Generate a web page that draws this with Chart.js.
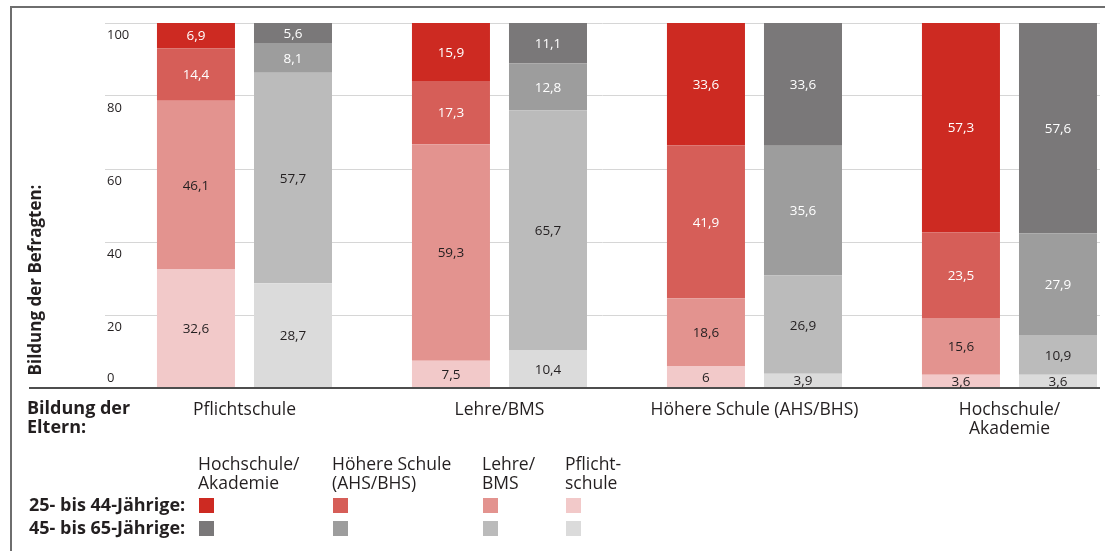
<!DOCTYPE html>
<html lang="de">
<head>
<meta charset="UTF-8">
<title>Bildung der Befragten nach Bildung der Eltern</title>
<script src="https://cdn.jsdelivr.net/npm/chart.js"></script>
<style>
  html, body { margin: 0; padding: 0; background: #fff; }
  canvas { display: block; }
</style>
</head>
<body>
<canvas id="bildungChart" width="1105" height="551"></canvas>
<script>
// Bildung der Eltern (Kategorien der x-Achse)
const elternLabels = [['Pflichtschule'], ['Lehre/BMS'], ['Höhere Schule (AHS/BHS)'], ['Hochschule/', 'Akademie']];

// Bildung der Befragten in %, 25- bis 44-Jährige
const jungPflicht = [32.6, 7.5, 6, 3.6];
const jungLehre = [46.1, 59.3, 18.6, 15.6];
const jungHoehere = [14.4, 17.3, 41.9, 23.5];
const jungHoch = [6.9, 15.9, 33.6, 57.3];

// Bildung der Befragten in %, 45- bis 65-Jährige
const altPflicht = [28.7, 10.4, 3.9, 3.6];
const altLehre = [57.7, 65.7, 26.9, 10.9];
const altHoehere = [8.1, 12.8, 35.6, 27.9];
const altHoch = [5.6, 11.1, 33.6, 57.6];

const yTicks = [0, 20, 40, 60, 80, 100];
const legendHeaders = [['Hochschule/', 'Akademie'], ['Höhere Schule', '(AHS/BHS)'], ['Lehre/', 'BMS'], ['Pflicht-', 'schule']];
const ageGroups = ['25- bis 44-Jährige:', '45- bis 65-Jährige:'];

// Farben: Hochschule, Höhere Schule, Lehre, Pflichtschule
const redShades = ['#cd2a22', '#d65e58', '#e3938f', '#f2c9c9'];
const greyShades = ['#7a7879', '#9d9d9d', '#bbbbbb', '#dbdbdb'];

const FONT = '"Open Sans", "Noto Sans", sans-serif';
const TEXT = '#231f20';

function toPoints(values) {
    return values.map((v, i) => ({ x: i, y: v }));
}

function makeSet(values, color, stack, light) {
    return {
        data: toPoints(values),
        backgroundColor: color,
        stack: stack,
        labelColor: light ? '#ffffff' : TEXT
    };
}

const datasets = [
    makeSet(jungPflicht, redShades[3], 'jung', false),
    makeSet(jungLehre, redShades[2], 'jung', false),
    makeSet(jungHoehere, redShades[1], 'jung', true),
    makeSet(jungHoch, redShades[0], 'jung', true),
    makeSet(altPflicht, greyShades[3], 'alt', false),
    makeSet(altLehre, greyShades[2], 'alt', false),
    makeSet(altHoehere, greyShades[1], 'alt', true),
    makeSet(altHoch, greyShades[0], 'alt', true)
];

// Rahmen, Achsenlinie, Beschriftungen und Legende
const decorations = {
    id: 'decorations',
    beforeDraw(chart) {
        const ctx = chart.ctx;
        ctx.save();
        ctx.fillStyle = '#fff';
        ctx.fillRect(0, 0, chart.width, chart.height);
        ctx.restore();
    },
    afterDatasetsDraw(chart) {
        const ctx = chart.ctx;
        const area = chart.chartArea;
        const xScale = chart.scales.x;
        const yScale = chart.scales.y;
        ctx.save();

        // Rahmen oben und links
        ctx.strokeStyle = '#6e6e6e';
        ctx.lineWidth = 2;
        ctx.beginPath();
        ctx.moveTo(10, 7);
        ctx.lineTo(chart.width, 7);
        ctx.moveTo(11, 7);
        ctx.lineTo(11, chart.height);
        ctx.stroke();

        // x-Achse
        const y0 = yScale.getPixelForValue(0);
        ctx.strokeStyle = '#4d4d4d';
        ctx.lineWidth = 2;
        ctx.beginPath();
        ctx.moveTo(29, y0);
        ctx.lineTo(area.right, y0);
        ctx.stroke();

        // Werte in den Balken
        ctx.font = '13.5px ' + FONT;
        ctx.textAlign = 'center';
        ctx.textBaseline = 'middle';
        chart.data.datasets.forEach((ds, i) => {
            const meta = chart.getDatasetMeta(i);
            meta.data.forEach((bar, j) => {
                const v = ds.data[j].y;
                const top = Math.max(bar.y, area.top);
                ctx.fillStyle = ds.labelColor;
                ctx.fillText(String(v).replace('.', ','), bar.x, (top + bar.base) / 2 + 1);
            });
        });

        // y-Achsenwerte
        ctx.font = '13px ' + FONT;
        ctx.fillStyle = TEXT;
        ctx.textAlign = 'left';
        yTicks.forEach(t => {
            const py = yScale.getPixelForValue(t);
            ctx.fillText(String(t), area.left + 2, t === 0 ? py - 10 : py + 12);
        });

        // Kategorien
        ctx.font = '17.5px ' + FONT;
        ctx.textAlign = 'center';
        elternLabels.forEach((lines, i) => {
            const px = xScale.getPixelForValue(i);
            lines.forEach((line, k) => ctx.fillText(line, px, y0 + 22 + k * 19));
        });

        // Achsentitel
        ctx.font = 'bold 18px ' + FONT;
        ctx.textAlign = 'left';
        ctx.fillText('Bildung der', 27, y0 + 21);
        ctx.fillText('Eltern:', 27, y0 + 40);

        ctx.save();
        ctx.font = 'bold 17px ' + FONT;
        ctx.translate(36, 280);
        ctx.rotate(-Math.PI / 2);
        ctx.textAlign = 'center';
        ctx.fillText('Bildung der Befragten:', 0, 0);
        ctx.restore();

        // Legende
        const legendX = [199, 333, 483, 566];
        ctx.font = '17.5px ' + FONT;
        ctx.textAlign = 'left';
        legendHeaders.forEach((lines, i) => {
            lines.forEach((line, k) => ctx.fillText(line, legendX[i] - 1, 465 + k * 19));
        });
        ctx.font = 'bold 18px ' + FONT;
        ageGroups.forEach((label, r) => {
            ctx.fillStyle = TEXT;
            ctx.fillText(label, 29, 506 + r * 23);
            const shades = r === 0 ? redShades : greyShades;
            legendX.forEach((lx, i) => {
                ctx.fillStyle = shades[i];
                ctx.fillRect(lx, 498 + r * 23, 15, 15);
            });
        });

        ctx.restore();
    }
};

new Chart(document.getElementById('bildungChart'), {
    type: 'bar',
    data: { datasets: datasets },
    options: {
        responsive: false,
        animation: false,
        layout: { padding: { left: 105, right: 5, top: 23, bottom: 155 } },
        categoryPercentage: 0.761,
        barPercentage: 0.804,
        scales: {
            x: {
                type: 'linear',
                min: -0.547,
                max: 3.355,
                offset: false,
                afterBuildTicks: axis => {
                    axis.ticks = elternLabels.map((l, i) => ({ value: i }));
                },
                ticks: { display: false },
                grid: { display: false },
                border: { display: false }
            },
            y: {
                stacked: true,
                min: 0,
                max: 100,
                ticks: { display: false, stepSize: 20 },
                grid: { color: '#d6d6d6', lineWidth: 1, drawTicks: false },
                border: { display: false }
            }
        },
        plugins: {
            legend: { display: false },
            tooltip: { enabled: false }
        }
    },
    plugins: [decorations]
});
</script>
</body>
</html>
